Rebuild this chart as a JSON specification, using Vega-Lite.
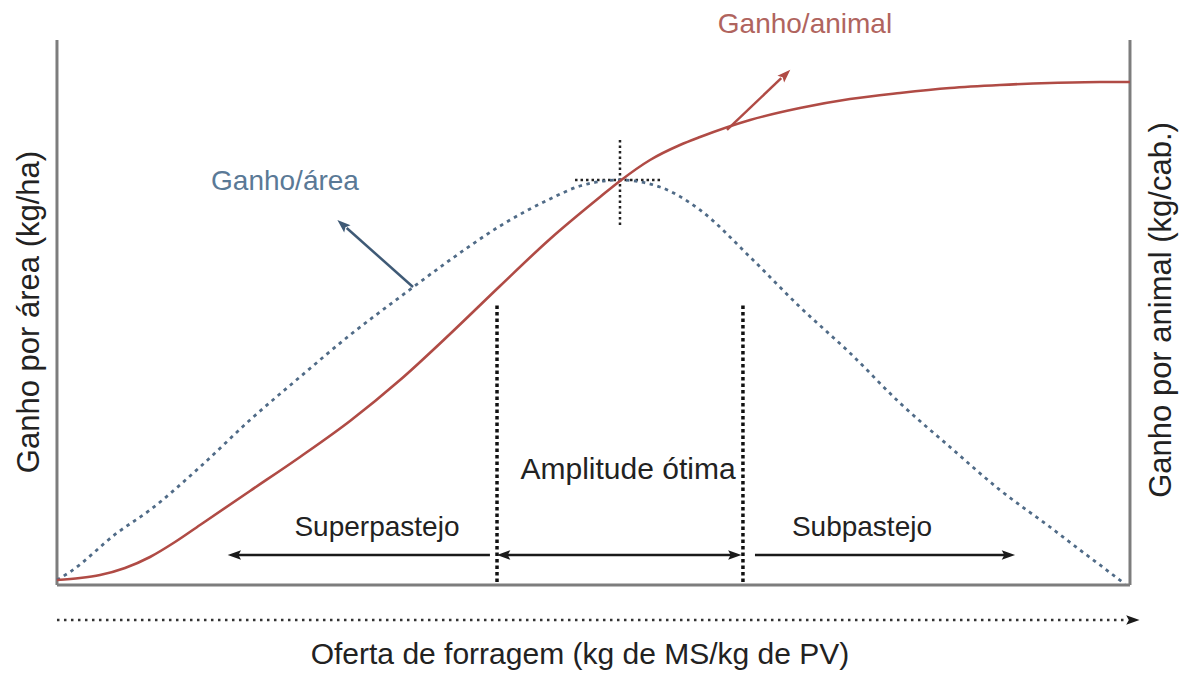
{
  "$schema": "https://vega.github.io/schema/vega-lite/v6.json",
  "width": 1189,
  "height": 673,
  "padding": 0,
  "autosize": {"type": "fit", "contains": "padding"},
  "background": "white",
  "config": {"view": {"stroke": null}, "text": {"font": "Liberation Sans"}},
  "datasets": {
    "frame": [
      {"x": 0, "y": 0, "x2": 0, "y2": 100},
      {"x": 100, "y": 0, "x2": 100, "y2": 100},
      {"x": 0, "y": 0, "x2": 100, "y2": 0}
    ],
    "animal": [
      {"oferta": 0, "ganho": 0.92},
      {"oferta": 2.14, "ganho": 1.28},
      {"oferta": 4.01, "ganho": 1.83},
      {"oferta": 6.34, "ganho": 3.12},
      {"oferta": 8.67, "ganho": 5.14},
      {"oferta": 11.0, "ganho": 7.89},
      {"oferta": 13.33, "ganho": 11.01},
      {"oferta": 17.99, "ganho": 17.25},
      {"oferta": 22.65, "ganho": 23.49},
      {"oferta": 27.31, "ganho": 30.09},
      {"oferta": 31.97, "ganho": 37.61},
      {"oferta": 36.63, "ganho": 46.06},
      {"oferta": 41.29, "ganho": 54.86},
      {"oferta": 45.95, "ganho": 63.49},
      {"oferta": 50.61, "ganho": 71.19},
      {"oferta": 52.47, "ganho": 74.13},
      {"oferta": 55.27, "ganho": 77.98},
      {"oferta": 58.06, "ganho": 80.73},
      {"oferta": 59.93, "ganho": 82.2},
      {"oferta": 64.59, "ganho": 85.32},
      {"oferta": 69.24, "ganho": 87.52},
      {"oferta": 73.9, "ganho": 89.17},
      {"oferta": 78.56, "ganho": 90.28},
      {"oferta": 83.22, "ganho": 91.19},
      {"oferta": 87.88, "ganho": 91.74},
      {"oferta": 92.54, "ganho": 92.11},
      {"oferta": 97.2, "ganho": 92.29},
      {"oferta": 100, "ganho": 92.29}
    ],
    "area": [
      {"oferta": 0, "ganho": 0.92},
      {"oferta": 1.21, "ganho": 2.39},
      {"oferta": 5.59, "ganho": 9.54},
      {"oferta": 8.67, "ganho": 13.76},
      {"oferta": 13.33, "ganho": 21.65},
      {"oferta": 17.99, "ganho": 30.28},
      {"oferta": 22.65, "ganho": 38.17},
      {"oferta": 27.31, "ganho": 45.87},
      {"oferta": 31.97, "ganho": 52.84},
      {"oferta": 36.63, "ganho": 59.63},
      {"oferta": 41.29, "ganho": 65.87},
      {"oferta": 45.95, "ganho": 70.83},
      {"oferta": 48.74, "ganho": 73.21},
      {"oferta": 52.47, "ganho": 74.31},
      {"oferta": 56.2, "ganho": 73.03},
      {"oferta": 59.93, "ganho": 68.81},
      {"oferta": 64.59, "ganho": 60.18},
      {"oferta": 69.24, "ganho": 51.01},
      {"oferta": 73.9, "ganho": 42.57},
      {"oferta": 78.56, "ganho": 33.39},
      {"oferta": 83.22, "ganho": 25.32},
      {"oferta": 87.88, "ganho": 17.43},
      {"oferta": 92.54, "ganho": 10.64},
      {"oferta": 95.34, "ganho": 6.42},
      {"oferta": 97.2, "ganho": 3.67},
      {"oferta": 99.53, "ganho": 0.18}
    ],
    "limits": [
      {"x": 41.01, "y": 0.55, "y2": 51.38},
      {"x": 63.93, "y": 0.55, "y2": 51.38}
    ],
    "cross": [
      {"x": 52.47, "y": 66.06, "x2": 52.47, "y2": 82.2},
      {"x": 48.28, "y": 74.31, "x2": 56.38, "y2": 74.31}
    ],
    "spans": [
      {"x": 16.6, "y": 5.5, "x2": 40.35},
      {"x": 41.7, "y": 5.5, "x2": 63.1},
      {"x": 65.05, "y": 5.5, "x2": 88.6}
    ],
    "headsLeft": [
      {"x": 16.6, "y": 5.5},
      {"x": 41.7, "y": 5.5}
    ],
    "headsRight": [
      {"x": 63.1, "y": 5.5},
      {"x": 88.6, "y": 5.5},
      {"x": 100.2, "y": -6.42}
    ],
    "xaxis": [
      {"x": 0, "y": -6.42, "x2": 99.8}
    ],
    "areaPointer": [
      {"x": 33.18, "y": 54.68, "x2": 27.0, "y2": 65.5}
    ],
    "areaHead": [
      {"x": 26.65, "y": 66.06}
    ],
    "animalPointer": [
      {"x": 62.44, "y": 83.5, "x2": 67.5, "y2": 93.0}
    ],
    "animalHead": [
      {"x": 67.85, "y": 93.58}
    ],
    "labels": [
      {"texto": "Superpastejo", "x": 29.82, "y": 10.46},
      {"texto": "Subpastejo", "x": 75.02, "y": 10.46}
    ],
    "labelsWide": [
      {"texto": "Amplitude ótima", "x": 53.22, "y": 21.1},
      {"texto": "Oferta de forragem (kg de MS/kg de PV)", "x": 48.74, "y": -12.84}
    ],
    "titles": [
      {"texto": "Ganho por área (kg/ha)", "x": -2.52, "y": 50.09},
      {"texto": "Ganho por animal (kg/cab.)", "x": 102.98, "y": 50.46}
    ],
    "labAnimal": [
      {"texto": "Ganho/animal", "x": 69.71, "y": 102.75}
    ],
    "labArea": [
      {"texto": "Ganho/área", "x": 21.25, "y": 73.94}
    ]
  },
  "encoding": {
    "x": {"field": "x", "type": "quantitative", "scale": {"domain": [-5.31, 105.5], "nice": false, "zero": false}, "axis": null},
    "y": {"field": "y", "type": "quantitative", "scale": {"domain": [-16.15, 107.34], "nice": false, "zero": false}, "axis": null}
  },
  "layer": [
    {
      "data": {"name": "frame"},
      "mark": {"type": "rule", "color": "#7d7d7d", "strokeWidth": 3},
      "encoding": {"x2": {"field": "x2"}, "y2": {"field": "y2"}}
    },
    {
      "data": {"name": "xaxis"},
      "mark": {"type": "rule", "color": "#333333", "strokeWidth": 2.5, "strokeDash": [2.5, 4.5]},
      "encoding": {"x2": {"field": "x2"}}
    },
    {
      "data": {"name": "limits"},
      "mark": {"type": "rule", "color": "#111111", "strokeWidth": 3.5, "strokeDash": [3.5, 3]},
      "encoding": {"y2": {"field": "y2"}}
    },
    {
      "data": {"name": "cross"},
      "mark": {"type": "rule", "color": "#222222", "strokeWidth": 2.5, "strokeDash": [2.5, 3]},
      "encoding": {"x2": {"field": "x2"}, "y2": {"field": "y2"}}
    },
    {
      "data": {"name": "area"},
      "mark": {"type": "line", "color": "#506b87", "strokeWidth": 2.8, "strokeDash": [3.5, 4.5], "interpolate": "monotone"},
      "encoding": {"x": {"field": "oferta", "type": "quantitative"}, "y": {"field": "ganho", "type": "quantitative"}}
    },
    {
      "data": {"name": "animal"},
      "mark": {"type": "line", "color": "#b04b45", "strokeWidth": 2.6, "interpolate": "monotone"},
      "encoding": {"x": {"field": "oferta", "type": "quantitative"}, "y": {"field": "ganho", "type": "quantitative"}}
    },
    {
      "data": {"name": "spans"},
      "mark": {"type": "rule", "color": "#1a1a1a", "strokeWidth": 2.5},
      "encoding": {"x2": {"field": "x2"}}
    },
    {
      "data": {"name": "headsLeft"},
      "mark": {"type": "point", "shape": "M0,-1L0.65,0.8L0,0.45L-0.65,0.8Z", "angle": 270, "filled": true, "opacity": 1, "color": "#1a1a1a", "size": 220}
    },
    {
      "data": {"name": "headsRight"},
      "mark": {"type": "point", "shape": "M0,-1L0.65,0.8L0,0.45L-0.65,0.8Z", "angle": 90, "filled": true, "opacity": 1, "color": "#1a1a1a", "size": 220}
    },
    {
      "data": {"name": "areaPointer"},
      "mark": {"type": "rule", "color": "#3f5a76", "strokeWidth": 2.5},
      "encoding": {"x2": {"field": "x2"}, "y2": {"field": "y2"}}
    },
    {
      "data": {"name": "areaHead"},
      "mark": {"type": "point", "shape": "M0,-1L0.65,0.8L0,0.45L-0.65,0.8Z", "angle": 311.5, "filled": true, "opacity": 1, "color": "#3f5a76", "size": 220}
    },
    {
      "data": {"name": "animalPointer"},
      "mark": {"type": "rule", "color": "#b04b45", "strokeWidth": 2.5},
      "encoding": {"x2": {"field": "x2"}, "y2": {"field": "y2"}}
    },
    {
      "data": {"name": "animalHead"},
      "mark": {"type": "point", "shape": "M0,-1L0.65,0.8L0,0.45L-0.65,0.8Z", "angle": 45.5, "filled": true, "opacity": 1, "color": "#b04b45", "size": 220}
    },
    {
      "data": {"name": "labels"},
      "mark": {"type": "text", "fontSize": 28, "color": "#222222", "align": "center", "baseline": "middle"},
      "encoding": {"text": {"field": "texto"}}
    },
    {
      "data": {"name": "labelsWide"},
      "mark": {"type": "text", "fontSize": 30, "color": "#222222", "align": "center", "baseline": "middle"},
      "encoding": {"text": {"field": "texto"}}
    },
    {
      "data": {"name": "titles"},
      "mark": {"type": "text", "fontSize": 31, "color": "#222222", "align": "center", "baseline": "middle", "angle": 270},
      "encoding": {"text": {"field": "texto"}}
    },
    {
      "data": {"name": "labAnimal"},
      "mark": {"type": "text", "fontSize": 28, "color": "#b0645e", "align": "center", "baseline": "middle"},
      "encoding": {"text": {"field": "texto"}}
    },
    {
      "data": {"name": "labArea"},
      "mark": {"type": "text", "fontSize": 28, "color": "#5a7996", "align": "center", "baseline": "middle"},
      "encoding": {"text": {"field": "texto"}}
    }
  ]
}
